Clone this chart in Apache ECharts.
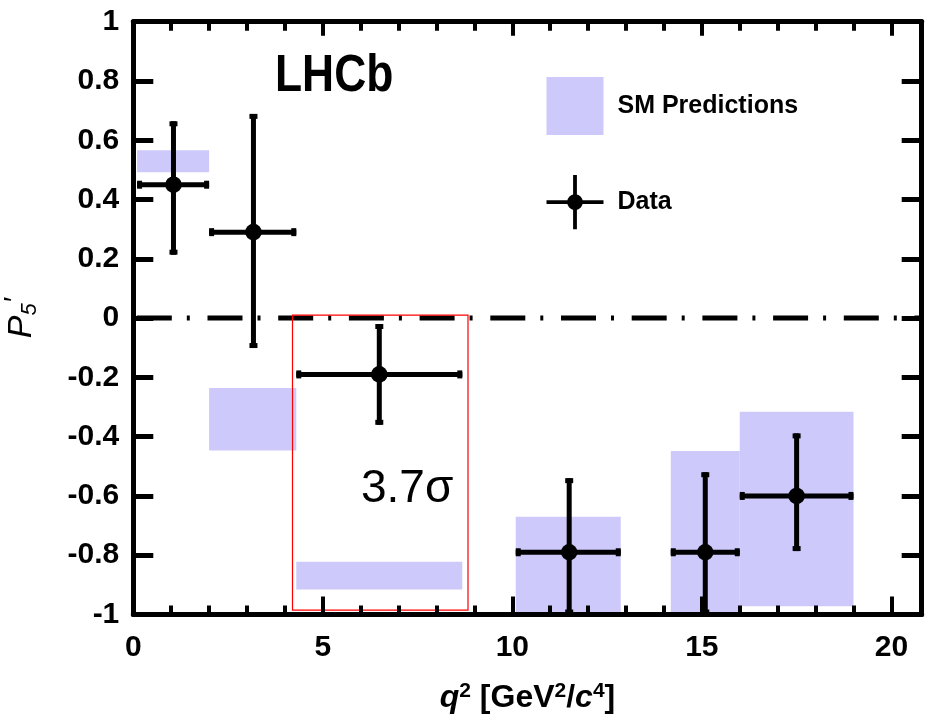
<!DOCTYPE html>
<html>
<head>
<meta charset="utf-8">
<script src="https://cdn.jsdelivr.net/npm/echarts@6/dist/echarts.min.js"></script>
<style>
html, body { margin: 0; padding: 0; background: #fff; }
#chart { width: 925px; height: 715px; }
</style>
</head>
<body>
<div id="chart"></div>
<script>
// q2 bins [GeV^2/c^4]
const binLow = [0.1, 2.0, 4.3, 10.09, 14.18, 16.0]
const binHigh = [2.0, 4.3, 8.68, 12.86, 16.0, 19.0]
const binCentre = [1.06, 3.17, 6.49, 11.5, 15.09, 17.5]

// measured P5' with error bar ends
const p5Data = [0.45, 0.29, -0.19, -0.79, -0.79, -0.60]
const p5Upper = [0.664, 0.689, -0.02, -0.54, -0.52, -0.389]
const p5Lower = [0.214, -0.101, -0.36, -1.0, -1.0, -0.786]

// SM prediction bands
const smTop = [0.566, -0.236, -0.822, -0.670, -0.448, -0.316]
const smBottom = [0.492, -0.447, -0.916, -1.0, -1.0, -0.972]

// highlighted region (3.7 sigma)
const boxX = [4.2, 8.83]
const boxY = [0.01, -0.985]

const xRange = [0, 20.8]
const yRange = [-1, 1]
const xMajor = 5
const xMinor = 1
const yStep = 0.2

const SM_COLOR = '#cdc9fb'
const FONT = '"Liberation Sans", Arial, Helvetica, sans-serif'

const smItems = binLow.map((lo, i) => [lo, binHigh[i], smTop[i], smBottom[i]])
const dataItems = binCentre.map((x, i) => [x, p5Data[i], binLow[i], binHigh[i], p5Lower[i], p5Upper[i]])

const renderBand = (params, api) => {
  const p0 = api.coord([api.value(0), api.value(2)])
  const p1 = api.coord([api.value(1), api.value(3)])
  return {
    type: 'rect',
    shape: { x: p0[0], y: p0[1], width: p1[0] - p0[0], height: p1[1] - p0[1] },
    style: { fill: SM_COLOR }
  }
}

const renderRedBox = (params, api) => {
  const p0 = api.coord([api.value(0), api.value(2)])
  const p1 = api.coord([api.value(1), api.value(3)])
  return {
    type: 'rect',
    shape: { x: p0[0], y: p0[1], width: p1[0] - p0[0], height: p1[1] - p0[1] },
    style: { fill: null, stroke: '#ff0000', lineWidth: 1.2 }
  }
}

const renderPoint = (params, api) => {
  const c = api.coord([api.value(0), api.value(1)])
  const l = api.coord([api.value(2), api.value(1)])
  const r = api.coord([api.value(3), api.value(1)])
  const b = api.coord([api.value(0), api.value(4)])
  const t = api.coord([api.value(0), api.value(5)])
  const lw = 5
  const cap = 8
  const st = { stroke: '#000', lineWidth: lw }
  return {
    type: 'group',
    children: [
      { type: 'line', shape: { x1: l[0], y1: c[1], x2: r[0], y2: c[1] }, style: st },
      { type: 'line', shape: { x1: c[0], y1: t[1], x2: c[0], y2: b[1] }, style: st },
      { type: 'rect', shape: { x: l[0], y: c[1] - cap / 2, width: lw, height: cap }, style: { fill: '#000' } },
      { type: 'rect', shape: { x: r[0] - lw, y: c[1] - cap / 2, width: lw, height: cap }, style: { fill: '#000' } },
      { type: 'rect', shape: { x: c[0] - cap / 2, y: t[1], width: cap, height: lw }, style: { fill: '#000' } },
      { type: 'rect', shape: { x: c[0] - cap / 2, y: b[1] - lw, width: cap, height: lw }, style: { fill: '#000' } },
      { type: 'circle', shape: { cx: c[0], cy: c[1], r: 8.3 }, style: { fill: '#000' } }
    ]
  }
}

const baseX = (extra) => Object.assign({
  type: 'value',
  min: xRange[0],
  max: xRange[1],
  z: 10,
  splitLine: { show: false },
  axisLine: { show: false, onZero: false },
  axisLabel: { show: false },
  axisTick: { inside: true, lineStyle: { color: '#000', width: 4 } }
}, extra)

const baseY = (extra) => Object.assign({
  type: 'value',
  min: yRange[0],
  max: yRange[1],
  interval: yStep,
  z: 10,
  splitLine: { show: false },
  axisLine: { show: true, onZero: false, lineStyle: { color: '#000', width: 5 } },
  axisTick: { inside: true, length: 20, lineStyle: { color: '#000', width: 5 } },
  axisLabel: { show: false }
}, extra)

const chart = echarts.init(document.getElementById('chart'))

const option = {
  backgroundColor: '#fff',
  animation: false,
  grid: { left: 133.3, right: 3.3, top: 21.7, bottom: 100.5, containLabel: false, outerBoundsMode: 'none' },
  legend: {
    orient: 'vertical',
    left: 546.5,
    top: 77,
    padding: 0,
    itemWidth: 57,
    itemHeight: 58,
    itemGap: 40,
    selectedMode: false,
    textStyle: { fontFamily: FONT, fontSize: 25, fontWeight: 'bold', color: '#000', padding: [0, 0, 0, 9] },
    data: [
      { name: 'SM Predictions', icon: 'rect' },
      { name: 'Data', icon: 'path://M0,26.5H60V30.5H0Z M28,0H32V57H28Z M21.7,28.5A8.3,8.3 0 1 1 38.3,28.5A8.3,8.3 0 1 1 21.7,28.5Z' }
    ]
  },
  xAxis: [
    baseX({
      position: 'bottom',
      interval: xMajor,
      axisLine: { show: true, onZero: false, lineStyle: { color: '#000', width: 5 } },
      axisTick: { inside: true, length: 18, lineStyle: { color: '#000', width: 4 } },
      axisLabel: {
        show: true, showMaxLabel: false, margin: 18,
        fontFamily: FONT, fontSize: 30, fontWeight: 'bold', color: '#000'
      },
      name: '{i|q}{s|2}{n| [GeV}{s|2}{n|/}{i|c}{s|4}{n|]}',
      nameLocation: 'middle',
      nameGap: 66,
      nameTextStyle: {
        rich: {
          i: { fontFamily: FONT, fontSize: 32, fontWeight: 'bold', fontStyle: 'italic', color: '#000', lineHeight: 35 },
          n: { fontFamily: FONT, fontSize: 32, fontWeight: 'bold', color: '#000', lineHeight: 35 },
          s: { fontFamily: FONT, fontSize: 21, fontWeight: 'bold', color: '#000', lineHeight: 21, verticalAlign: 'top' }
        }
      }
    }),
    baseX({ position: 'bottom', interval: xMinor, axisTick: { inside: true, length: 9, lineStyle: { color: '#000', width: 4 } } }),
    baseX({
      position: 'top',
      interval: xMajor,
      axisLine: { show: true, onZero: false, lineStyle: { color: '#000', width: 5 } },
      axisTick: { inside: true, length: 14, lineStyle: { color: '#000', width: 4 } }
    }),
    baseX({ position: 'top', interval: xMinor, axisTick: { inside: true, length: 9, lineStyle: { color: '#000', width: 4 } } })
  ],
  yAxis: [
    baseY({
      position: 'left',
      axisLabel: { show: true, margin: 14, fontFamily: FONT, fontSize: 30, fontWeight: 'bold', color: '#000' },
      name: '{p|P}{s|5}{q|′}',
      nameLocation: 'middle',
      nameRotate: 90,
      nameGap: 92,
      nameTextStyle: {
        rich: {
          p: { fontFamily: FONT, fontSize: 34, fontStyle: 'italic', color: '#000', lineHeight: 40 },
          s: { fontFamily: FONT, fontSize: 22, fontStyle: 'italic', color: '#000', lineHeight: 22, verticalAlign: 'bottom' },
          q: { fontFamily: FONT, fontSize: 28, fontStyle: 'italic', color: '#000', lineHeight: 28, verticalAlign: 'top' }
        }
      }
    }),
    baseY({ position: 'right' })
  ],
  graphic: [
    {
      type: 'text', x: 275, y: 77, scaleX: 0.87, z: 20,
      style: { text: 'LHCb', font: 'bold 51px ' + FONT, fill: '#000', verticalAlign: 'middle', align: 'left' }
    },
    {
      type: 'text', x: 361, y: 489, z: 20,
      style: { text: '3.7σ', font: '46px ' + FONT, fill: '#000', verticalAlign: 'middle', align: 'left' }
    }
  ],
  series: [
    {
      name: 'SM Predictions',
      type: 'custom',
      renderItem: renderBand,
      itemStyle: { color: SM_COLOR },
      encode: { x: [0, 1], y: [2, 3] },
      data: smItems,
      z: 1
    },
    {
      name: 'zero',
      type: 'line',
      data: [[xRange[0], 0], [xRange[1], 0]],
      symbol: 'none',
      lineStyle: { color: '#000', width: 5, type: [35, 15, 3, 17.7], dashOffset: -3.5 },
      z: 2
    },
    {
      name: 'box',
      type: 'custom',
      renderItem: renderRedBox,
      encode: { x: [0, 1], y: [2, 3] },
      data: [[boxX[0], boxX[1], boxY[0], boxY[1]]],
      z: 3
    },
    {
      name: 'Data',
      type: 'custom',
      renderItem: renderPoint,
      itemStyle: { color: '#000' },
      encode: { x: [0, 2, 3], y: [1, 4, 5] },
      data: dataItems,
      z: 4
    }
  ]
}

chart.setOption(option)
window.addEventListener('resize', () => chart.resize())
</script>
</body>
</html>
